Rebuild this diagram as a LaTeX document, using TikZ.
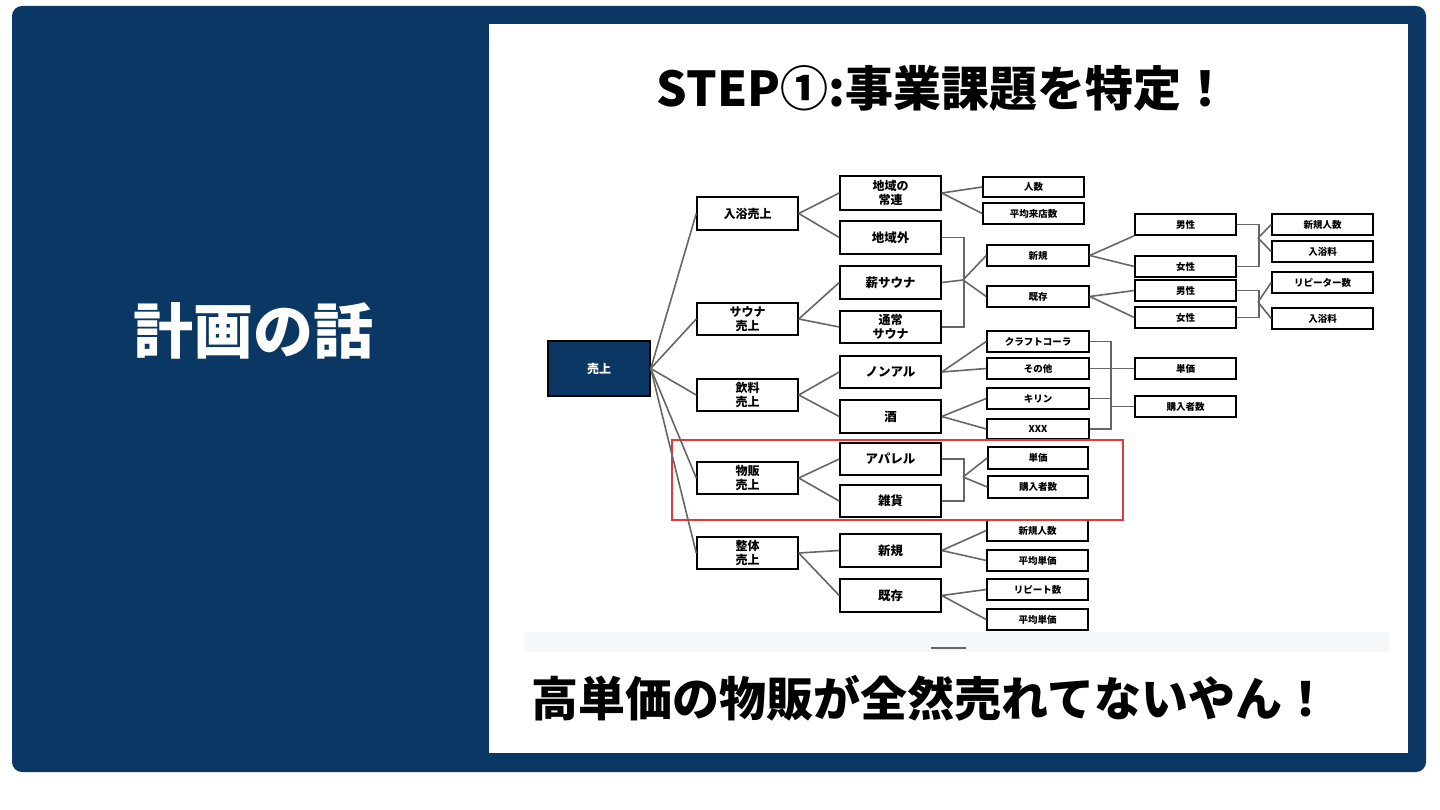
\documentclass[tikz,border=0pt]{standalone}
\usepackage{fontspec}
\setmainfont{Noto Sans CJK JP}
\definecolor{navy}{HTML}{0A3763}
\definecolor{conngray}{HTML}{666666}
\definecolor{stripgray}{HTML}{F6F7F9}
\definecolor{hlred}{HTML}{E03A3A}
\newcommand\tbox[7]{\node[#7, minimum width={(#4)-(#2)}, minimum height={(#5)-(#3)}] (#1) at ({((#2)+(#4))/2},{((#3)+(#5)))/2}) {#6};}
\begin{document}
\begin{tikzpicture}[x=1pt,y=-1pt,
  sbox/.style={draw=black, line width=1.5pt, fill=white, inner sep=0pt, align=center, font=\bfseries\fontsize{9.5}{11}\selectfont},
  mbox/.style={sbox, font=\bfseries\fontsize{12.5}{15}\selectfont},
  lbox/.style={sbox, font=\bfseries\fontsize{12}{14.5}\selectfont},
  rootbox/.style={draw=black, line width=1.5pt, fill=navy, text=white, inner sep=0pt, font=\bfseries\fontsize{12}{14}\selectfont},
  conn/.style={draw=conngray, line width=1.6pt},
  hl/.style={draw=hlred, line width=1.2pt, fill=none, inner sep=0pt}]
\useasboundingbox (0,0) rectangle (1440,810);
\fill[white] (0,0) rectangle (1440,810);
\fill[navy, rounded corners=10pt] (12,6) rectangle (1426,772);
\fill[white] (489,24) rectangle (1408,753);

\node[text=white, font=\bfseries\fontsize{60}{60}\selectfont] (lefttitle) at (253,331) {計画の話};
\node[font=\bfseries\fontsize{48}{48}\selectfont] (title) at (943,88) {STEP①:事業課題を特定！};

\fill[stripgray] (524,632) rectangle (1390,652);
\draw[conngray, line width=1.5pt] (931,648) -- (966,648);

\node[font=\bfseries\fontsize{47}{47}\selectfont, anchor=west] (bottom) at (528,698) {高単価の物販が全然売れてないやん！};

% root
\tbox{root}{548}{341}{650}{396}{売上}{rootbox}
% level 1
\tbox{a1}{697}{197}{798}{230}{入浴売上}{lbox}
\tbox{a2}{697}{303}{798}{335}{サウナ\\売上}{lbox}
\tbox{a3}{697}{379}{798}{411}{飲料\\売上}{lbox}
\tbox{a4}{697}{462}{798}{494}{物販\\売上}{lbox}
\tbox{a5}{697}{537}{798}{569}{整体\\売上}{lbox}
% level 2
\tbox{b1}{840}{176}{941}{210}{地域の\\常連}{lbox}
\tbox{b2}{840}{221}{941}{254}{地域外}{mbox}
\tbox{b3}{840}{266}{941}{299}{薪サウナ}{mbox}
\tbox{b4}{840}{311}{941}{343}{通常\\サウナ}{lbox}
\tbox{b5}{840}{356}{941}{388}{ノンアル}{mbox}
\tbox{b6}{840}{400}{941}{433}{酒}{mbox}
\tbox{b7}{840}{443}{941}{475}{アパレル}{mbox}
\tbox{b8}{840}{485}{941}{517}{雑貨}{mbox}
\tbox{b9}{840}{534}{941}{567}{新規}{mbox}
\tbox{b10}{840}{579}{941}{612}{既存}{mbox}
% level 3
\tbox{c1}{983}{177}{1084}{197}{人数}{sbox}
\tbox{c2}{983}{203}{1084}{224}{平均来店数}{sbox}
\tbox{c3}{987}{245}{1089}{266}{新規}{sbox}
\tbox{c4}{987}{286}{1089}{307}{既存}{sbox}
\tbox{c5}{987}{331}{1089}{352}{クラフトコーラ}{sbox}
\tbox{c6}{987}{358}{1089}{379}{その他}{sbox}
\tbox{c7}{987}{388}{1089}{409}{キリン}{sbox}
\tbox{c8}{987}{419}{1089}{439}{XXX}{sbox}
\tbox{c9}{988}{447}{1088}{469}{単価}{sbox}
\tbox{c10}{988}{476}{1088}{498}{購入者数}{sbox}
\tbox{c11}{987}{520}{1088}{541}{新規人数}{sbox}
\tbox{c12}{987}{550}{1088}{571}{平均単価}{sbox}
\tbox{c13}{987}{579}{1088}{600}{リピート数}{sbox}
\tbox{c14}{987}{609}{1088}{630}{平均単価}{sbox}
% level 4
\tbox{d1}{1135}{214}{1236}{235}{男性}{sbox}
\tbox{d2}{1135}{256}{1236}{277}{女性}{sbox}
\tbox{d3}{1135}{280}{1236}{301}{男性}{sbox}
\tbox{d4}{1135}{307}{1236}{328}{女性}{sbox}
\tbox{d5}{1135}{358}{1236}{379}{単価}{sbox}
\tbox{d6}{1135}{396}{1236}{417}{購入者数}{sbox}
% level 5
\tbox{e1}{1272}{214}{1373}{235}{新規人数}{sbox}
\tbox{e2}{1272}{241}{1373}{262}{入浴料}{sbox}
\tbox{e3}{1272}{272}{1373}{293}{リピーター数}{sbox}
\tbox{e4}{1272}{308}{1373}{329}{入浴料}{sbox}

% highlight
\tbox{highlight}{672}{440}{1123}{520}{}{hl}

% junction coordinates
\coordinate (j1) at (963,280);
\coordinate (j2) at (1258,238);
\coordinate (j3) at (1258,302);
\coordinate (j4) at (963,477);
\coordinate (jx) at (1111,0);

% connectors
\foreach \t in {a1,a2,a3,a4,a5} \draw[conn] (root.east) -- (\t.west);
\draw[conn] (a1.east) -- (b1.west);
\draw[conn] (a1.east) -- (b2.west);
\draw[conn] (a2.east) -- (b3.west);
\draw[conn] (a2.east) -- (b4.west);
\draw[conn] (a3.east) -- (b5.west);
\draw[conn] (a3.east) -- (b6.west);
\draw[conn] (a4.east) -- (b7.west);
\draw[conn] (a4.east) -- (b8.west);
\draw[conn] (a5.east) -- (b9.west);
\draw[conn] (a5.east) -- (b10.west);

\draw[conn] (b1.east) -- (c1.west);
\draw[conn] (b1.east) -- (c2.west);

\draw[conn] (b2.east) -- ++(22,0) |- (b4.east);
\draw[conn] (b3.east) -- (j1);
\draw[conn] (j1) -- (c3.west);
\draw[conn] (j1) -- (c4.west);

\draw[conn] (c3.east) -- (d1.south west);
\draw[conn] (c3.east) -- (d2.west);
\draw[conn] (c4.east) -- (d3.west);
\draw[conn] (c4.east) -- (d4.west);

\draw[conn] (d1.east) -- ++(22,0) |- (d2.east);
\draw[conn] (j2) -- (e1.west);
\draw[conn] (j2) -- (e2.west);
\draw[conn] (d3.east) -- ++(22,0) |- (d4.east);
\draw[conn] (j3) -- (e3.west);
\draw[conn] (j3) -- (e4.west);

\draw[conn] (b5.east) -- (c5.west);
\draw[conn] (b5.east) -- (c6.west);
\draw[conn] (b6.east) -- (c7.west);
\draw[conn] (b6.east) -- (c8.west);

\draw[conn] (c5.east) -- (c5.east -| jx) |- (c8.east);
\draw[conn] (c6.east) -- (d5.west);
\draw[conn] (c7.east) -- (c7.east -| jx);
\draw[conn] (jx |- d6.west) -- (d6.west);

\draw[conn] (b7.east) -- ++(22,0) |- (b8.east);
\draw[conn] (j4) -- (c9.west);
\draw[conn] (j4) -- (c10.west);

\draw[conn] (b9.east) -- (c11.west);
\draw[conn] (b9.east) -- (c12.west);
\draw[conn] (b10.east) -- (c13.west);
\draw[conn] (b10.east) -- (c14.west);
\end{tikzpicture}
\end{document}
